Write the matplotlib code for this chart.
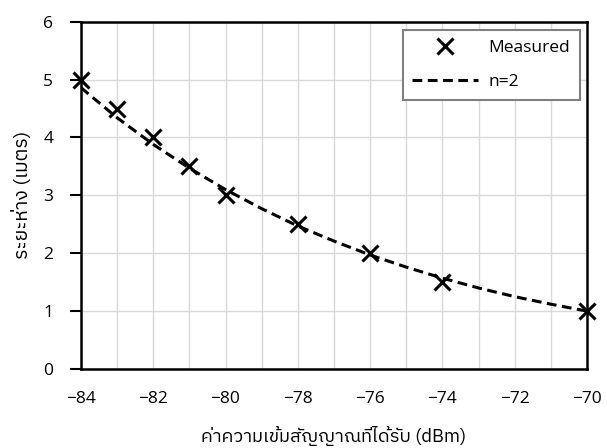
import matplotlib
matplotlib.use("Agg")
import matplotlib.pyplot as plt
from matplotlib import font_manager
from matplotlib.ft2font import FT2Font

# ---- data ----
measured_x = [-84, -83, -82, -81, -80, -78, -76, -74, -70]
measured_y = [5.0, 4.5, 4.0, 3.5, 3.0, 2.5, 2.0, 1.5, 1.0]
model_x = [-84, -83, -82, -81, -80, -79, -78, -77, -76, -75, -74, -73, -72, -71, -70]
model_y = [4.86, 4.34, 3.88, 3.47, 3.10, 2.77, 2.47, 2.21, 1.97, 1.76, 1.57, 1.40, 1.25, 1.12, 1.00]
x_ticks = [-84, -82, -80, -78, -76, -74, -72, -70]
y_ticks = [0, 1, 2, 3, 4, 5, 6]
xlabel = "ค่าความเข้มสัญญาณที่ได้รับ (dBm)"
ylabel = "ระยะห่าง (เมตร)"
legend_labels = ["Measured", "n=2"]

# ---- find a font with Thai glyphs ----
thai_family = None
for fe in font_manager.fontManager.ttflist:
    try:
        cm = FT2Font(fe.fname).get_charmap()
    except Exception:
        continue
    if ord("ค") in cm and ord("ญ") in cm:
        thai_family = fe.name
        if "Sans" in fe.name:
            break
families = ([thai_family] if thai_family else []) + ["DejaVu Sans"]
plt.rcParams["font.family"] = ["Open Sans", "DejaVu Sans"]

fig = plt.figure(figsize=(6.07, 4.48), dpi=100)
ax = fig.add_axes([0.1334, 0.1763, 0.8336, 0.7753])

ax.plot(model_x, model_y, linestyle=(0, (3.2, 1.8)), color="black", lw=2.2, zorder=3,
        label=legend_labels[1])
ax.plot(measured_x, measured_y, linestyle="none", marker="x", color="black",
        markersize=11, markeredgewidth=2.2, zorder=4, label=legend_labels[0], clip_on=False)

ax.set_xlim(-84, -70)
ax.set_ylim(0, 6)
ax.set_xticks(x_ticks)
ax.set_xticks(range(-84, -69), minor=True)
ax.set_yticks(y_ticks)
ax.grid(True, which="both", axis="x", color="#d9d9d9", lw=1)
ax.grid(True, which="major", axis="y", color="#d9d9d9", lw=1)
ax.set_axisbelow(True)
for s in ax.spines.values():
    s.set_color("black")
    s.set_linewidth(1.8)
ax.tick_params(axis="x", which="both", length=0, pad=16, labelsize=12.5)
ax.tick_params(axis="y", length=8, width=1.5, pad=12, labelsize=12.5)

ax.set_xlabel(xlabel, family=families, fontsize=13.2, va="baseline")
ax.xaxis.set_label_coords(0.5, -0.21)
ax.set_ylabel(ylabel, family=families, fontsize=14, va="center")
ax.yaxis.set_label_coords(-0.117, 0.5)

h, l = ax.get_legend_handles_labels()
leg = ax.legend([h[1], h[0]], [l[1], l[0]], loc="upper right",
                bbox_to_anchor=(0.986, 0.976), borderaxespad=0, fancybox=False,
                framealpha=1, edgecolor="#808080", fontsize=12.5, handlelength=3.8,
                handletextpad=0.6, borderpad=0.55, labelspacing=1.05)
leg.get_frame().set_linewidth(1.5)

fig.savefig("out.png", dpi=100)
